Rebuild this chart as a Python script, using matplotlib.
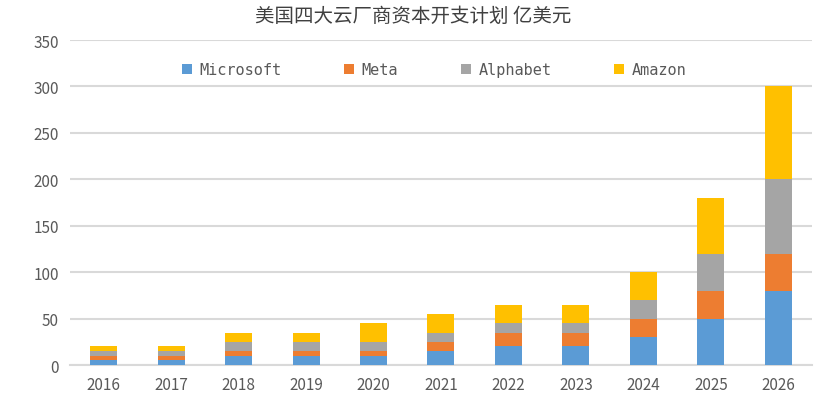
import matplotlib.pyplot as plt
import numpy as np

plt.rcParams['font.family'] = ['Noto Sans CJK SC', 'DejaVu Sans']

# capex by year, 亿美元
years = ['2016', '2017', '2018', '2019', '2020', '2021', '2022', '2023', '2024', '2025', '2026']
microsoft = [5, 5, 10, 10, 10, 15, 20, 20, 30, 50, 80]
meta = [5, 5, 5, 5, 5, 10, 15, 15, 20, 30, 40]
alphabet = [5, 5, 10, 10, 10, 10, 10, 10, 20, 40, 80]
amazon = [5, 5, 10, 10, 20, 20, 20, 20, 30, 60, 100]

series = [('Microsoft', microsoft, '#5b9bd5'),
          ('Meta', meta, '#ed7d31'),
          ('Alphabet', alphabet, '#a5a5a5'),
          ('Amazon', amazon, '#ffc000')]

fig = plt.figure(figsize=(8.29, 4.10), dpi=100)
ax = fig.add_axes([0.0844, 0.1073, 0.8951, 0.7927])

x = np.arange(len(years))
bottom = np.zeros(len(years))
for name, vals, col in series:
    ax.bar(x, vals, width=0.4, bottom=bottom, color=col, label=name, zorder=3)
    bottom += np.array(vals)

ax.set_xlim(-0.5, len(years) - 0.5)
ax.set_ylim(0, 350)
ax.set_yticks(range(0, 351, 50))
ax.set_xticks(x)
ax.set_xticklabels(years)
ax.grid(axis='y', color='#d9d9d9', linewidth=1.5, zorder=0)
for s in ['top', 'right', 'left']:
    ax.spines[s].set_visible(False)
ax.spines['bottom'].set_color('#d9d9d9')
ax.spines['bottom'].set_linewidth(1.5)
ax.tick_params(length=0, labelsize=11, labelcolor='#595959', pad=8)

fig.text(0.499, 0.96, '美国四大云厂商资本开支计划 亿美元', ha='center', va='center',
         fontsize=14, color='#404040')

leg = fig.legend(loc='center', bbox_to_anchor=(0.5235, 0.827), ncol=4, frameon=False,
                 handlelength=0.65, handleheight=0.65, handletextpad=0.5, columnspacing=4.1,
                 prop={'family': 'DejaVu Sans Mono', 'size': 11})
for t in leg.get_texts():
    t.set_color('#595959')

fig.savefig('out.png', dpi=100)
